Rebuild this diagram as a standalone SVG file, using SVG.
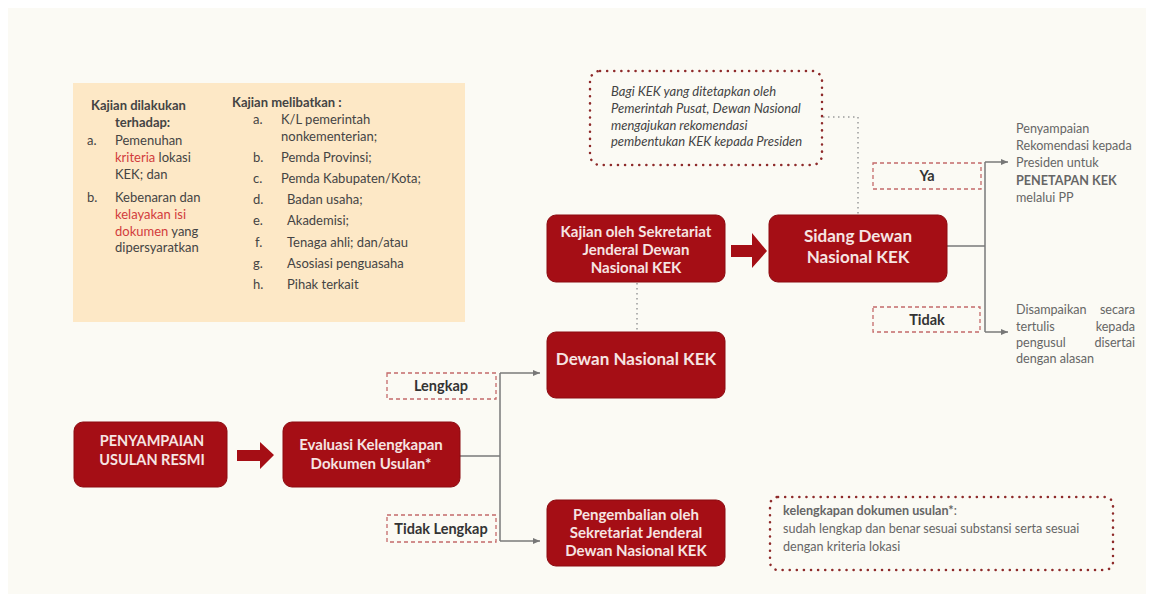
<svg xmlns="http://www.w3.org/2000/svg" width="1153" height="601" viewBox="0 0 1153 601">
<defs>
<marker id="ah" markerWidth="8" markerHeight="8" refX="7" refY="4" orient="auto" markerUnits="userSpaceOnUse">
<path d="M0,1 L7,4 L0,7 Z" fill="#777"/>
</marker>
<style>
.node{fill:#a50e15;stroke:#8c0a10;stroke-width:1}
.nt{font-family:Lato,"Liberation Sans",sans-serif;font-weight:bold;fill:#f6e4e2;text-anchor:middle}
.lab{fill:none;stroke:#c46a6a;stroke-width:1.3;stroke-dasharray:4,3}
.lt{font-family:Lato,"Liberation Sans",sans-serif;font-weight:bold;font-size:14.5px;fill:#333;text-anchor:middle}
.conn{fill:none;stroke:#7a7a7a;stroke-width:1.5}
.dot{fill:none;stroke:#9a9a9a;stroke-width:1.5;stroke-dasharray:1.5,3.5}
.callout{fill:none;stroke:#8e2a2a;stroke-width:2.5;stroke-linecap:round;stroke-dasharray:0.1,7}
.pt{font-family:Lato,"Liberation Sans",sans-serif;font-size:13px;fill:#444}
.red{fill:#d23c3c}
.gt{font-family:Lato,"Liberation Sans",sans-serif;font-size:12.6px;fill:#666}
.it{font-family:Lato,"Liberation Sans",sans-serif;font-style:italic;font-size:13px;fill:#444}
.blk{fill:#a50e15}
</style>
</defs>
<rect x="0" y="0" width="1153" height="601" fill="#ffffff"/>
<rect x="8" y="8" width="1138" height="586" fill="#fbfaf4"/>

<g id="info-box">
<rect x="73" y="83" width="392" height="239" fill="#fde8c6"/>
<text class="pt" font-weight="bold" x="91" y="110">Kajian dilakukan</text>
<text class="pt" font-weight="bold" x="115" y="127">terhadap:</text>
<text class="pt" x="87" y="145">a.</text>
<text class="pt" x="115" y="145">Pemenuhan</text>
<text class="pt" x="115" y="162"><tspan class="red">kriteria</tspan> lokasi</text>
<text class="pt" x="115" y="179">KEK; dan</text>
<text class="pt" x="87" y="202">b.</text>
<text class="pt" x="115" y="202">Kebenaran dan</text>
<text class="pt" x="115" y="219"><tspan class="red">kelayakan isi</tspan></text>
<text class="pt" x="115" y="236"><tspan class="red">dokumen</tspan> yang</text>
<text class="pt" x="115" y="252">dipersyaratkan</text>

<text class="pt" font-weight="bold" x="232" y="107">Kajian melibatkan :</text>
<text class="pt" x="253" y="124">a.</text>
<text class="pt" x="281" y="124">K/L pemerintah</text>
<text class="pt" x="281" y="141">nonkementerian;</text>
<text class="pt" x="253" y="162">b.</text>
<text class="pt" x="281" y="162">Pemda Provinsi;</text>
<text class="pt" x="253" y="183">c.</text>
<text class="pt" x="281" y="183">Pemda Kabupaten/Kota;</text>
<text class="pt" x="253" y="204">d.</text>
<text class="pt" x="287" y="204">Badan usaha;</text>
<text class="pt" x="253" y="225">e.</text>
<text class="pt" x="287" y="225">Akademisi;</text>
<text class="pt" x="255" y="247">f.</text>
<text class="pt" x="287" y="247">Tenaga ahli; dan/atau</text>
<text class="pt" x="253" y="268">g.</text>
<text class="pt" x="287" y="268">Asosiasi penguasaha</text>
<text class="pt" x="253" y="289">h.</text>
<text class="pt" x="287" y="289">Pihak terkait</text>
</g>

<g id="connectors">
<path class="conn" d="M460,456 H500 M500,373 V541"/>
<path class="conn" d="M500,373 H540" marker-end="url(#ah)"/>
<path class="conn" d="M500,541 H540" marker-end="url(#ah)"/>
<path class="conn" d="M947,246 H985 M985,162 V332"/>
<path class="conn" d="M985,162 H1008" marker-end="url(#ah)"/>
<path class="conn" d="M985,332 H1008" marker-end="url(#ah)"/>
<path class="dot" d="M637,283 V331"/>
<path class="dot" d="M823,117 H858 V214"/>
<polygon class="blk" points="237,450 260,450 260,442 274,455 260,469 260,461 237,461"/>
<polygon class="blk" points="731,245 752,245 752,233 767,251 752,268 752,257 731,257"/>
</g>

<g id="node-penyampaian">
<rect class="node" x="74" y="422" width="153" height="65" rx="9"/>
<text class="nt" font-size="14.5" x="152" y="446">PENYAMPAIAN</text>
<text class="nt" font-size="14.5" x="152" y="465">USULAN RESMI</text>
</g>

<g id="node-evaluasi">
<rect class="node" x="283" y="422" width="177" height="65" rx="9"/>
<text class="nt" font-size="15" x="371" y="450">Evaluasi Kelengkapan</text>
<text class="nt" font-size="15" x="371" y="469">Dokumen Usulan*</text>
</g>

<g id="label-lengkap">
<rect class="lab" x="387" y="373" width="109" height="26"/>
<text class="lt" x="441" y="391">Lengkap</text>
</g>

<g id="label-tidak-lengkap">
<rect class="lab" x="387" y="515" width="109" height="27"/>
<text class="lt" x="441" y="534">Tidak Lengkap</text>
</g>

<g id="node-dewan">
<rect class="node" x="547" y="332" width="178" height="66" rx="9"/>
<text class="nt" font-size="17" x="636" y="365">Dewan Nasional KEK</text>
</g>

<g id="node-pengembalian">
<rect class="node" x="547" y="500" width="178" height="66" rx="9"/>
<text class="nt" font-size="15" x="636" y="520">Pengembalian oleh</text>
<text class="nt" font-size="15" x="636" y="538">Sekretariat Jenderal</text>
<text class="nt" font-size="15" x="636" y="556">Dewan Nasional KEK</text>
</g>

<g id="node-kajian">
<rect class="node" x="547" y="215" width="178" height="67" rx="9"/>
<text class="nt" font-size="15" x="636" y="237">Kajian oleh Sekretariat</text>
<text class="nt" font-size="15" x="636" y="255">Jenderal Dewan</text>
<text class="nt" font-size="15" x="636" y="273">Nasional KEK</text>
</g>

<g id="node-sidang">
<rect class="node" x="769" y="215" width="178" height="67" rx="9"/>
<text class="nt" font-size="17" x="858" y="242">Sidang Dewan</text>
<text class="nt" font-size="17" x="858" y="263">Nasional KEK</text>
</g>

<g id="callout-top">
<rect class="callout" x="590" y="71" width="232" height="94" rx="10"/>
<text class="it" x="611" y="96">Bagi KEK yang ditetapkan oleh</text>
<text class="it" x="611" y="113">Pemerintah Pusat, Dewan Nasional</text>
<text class="it" x="611" y="130">mengajukan rekomendasi</text>
<text class="it" x="611" y="146">pembentukan KEK kepada Presiden</text>
</g>

<g id="label-ya">
<rect class="lab" x="873" y="163" width="108" height="26"/>
<text class="lt" x="927" y="181">Ya</text>
</g>

<g id="label-tidak">
<rect class="lab" x="873" y="307" width="107" height="25"/>
<text class="lt" x="927" y="325">Tidak</text>
</g>

<g id="result-ya">
<text class="gt" x="1016" y="133">Penyampaian</text>
<text class="gt" x="1016" y="150">Rekomendasi kepada</text>
<text class="gt" x="1016" y="167">Presiden untuk</text>
<text class="gt" x="1016" y="185" font-weight="bold" fill="#333">PENETAPAN KEK</text>
<text class="gt" x="1016" y="202">melalui PP</text>
</g>

<g id="result-tidak">
<text class="gt" x="1016" y="314">Disampaikan</text>
<text class="gt" x="1135" y="314" text-anchor="end">secara</text>
<text class="gt" x="1016" y="331">tertulis</text>
<text class="gt" x="1135" y="331" text-anchor="end">kepada</text>
<text class="gt" x="1016" y="347">pengusul</text>
<text class="gt" x="1135" y="347" text-anchor="end">disertai</text>
<text class="gt" x="1016" y="363">dengan alasan</text>
</g>

<g id="callout-bottom">
<rect class="callout" x="770" y="497" width="343" height="73" rx="8"/>
<text class="gt" x="783" y="515" font-size="11.5" font-weight="bold" fill="#333">kelengkapan dokumen usulan*<tspan font-weight="normal" fill="#666">:</tspan></text>
<text class="gt" x="783" y="533" font-size="11.5">sudah lengkap dan benar sesuai substansi serta sesuai</text>
<text class="gt" x="783" y="551" font-size="11.5">dengan kriteria lokasi</text>
</g>
</svg>
